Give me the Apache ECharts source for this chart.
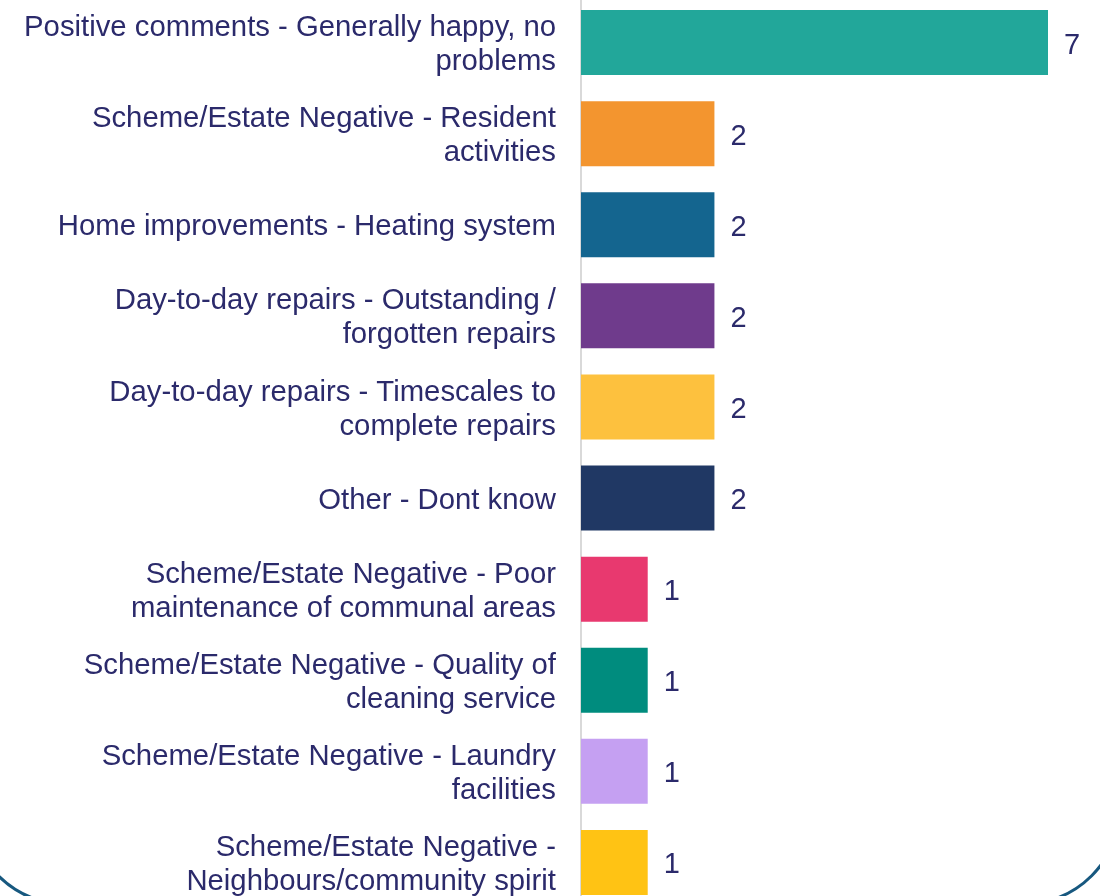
<!DOCTYPE html>
<html>
<head>
<meta charset="utf-8">
<script src="https://cdn.jsdelivr.net/npm/echarts@6/dist/echarts.min.js"></script>
<style>html,body{margin:0;padding:0;background:#fff;overflow:hidden;width:1100px;height:896px;}#c{position:absolute;left:0;top:-3px;width:1100px;height:911px;}</style>
</head>
<body>
<div id="c"></div>
<script>
const categories = [
  "Positive comments - Generally happy, no\nproblems",
  "Scheme/Estate Negative - Resident\nactivities",
  "Home improvements - Heating system",
  "Day-to-day repairs - Outstanding /\nforgotten repairs",
  "Day-to-day repairs - Timescales to\ncomplete repairs",
  "Other - Dont know",
  "Scheme/Estate Negative - Poor\nmaintenance of communal areas",
  "Scheme/Estate Negative - Quality of\ncleaning service",
  "Scheme/Estate Negative - Laundry\nfacilities",
  "Scheme/Estate Negative -\nNeighbours/community spirit"
];
const values = [7, 2, 2, 2, 2, 2, 1, 1, 1, 1];
const colors = ["#22a79a", "#f3952f", "#14658f", "#6f3b8c", "#fdc13e", "#203864", "#e8396f", "#008c7e", "#c5a0f2", "#ffc314"];

const FONT = 'Liberation Sans, Arial, sans-serif';
const chart = echarts.init(document.getElementById('c'), null, {renderer: 'canvas'});
chart.setOption({
  animation: false,
  backgroundColor: '#fff',
  grid: {left: 581, right: 52, top: 0, bottom: 0, containLabel: false},
  xAxis: {type: 'value', min: 0, max: 7, show: false},
  yAxis: {
    type: 'category', data: categories, inverse: true,
    axisLine: {show: true, lineStyle: {color: '#d9d9d9', width: 2}},
    axisTick: {show: false},
    axisLabel: {
      color: '#2b2a6b', fontSize: 29.3, fontFamily: FONT,
      margin: 25, align: 'right',
      formatter: v => v.split('\n').map(l => '{s| }{t|' + l + '}').join('\n'),
      rich: {
        s: {lineHeight: 34, width: 0, fontSize: 29.3, fontFamily: FONT},
        t: {verticalAlign: 'bottom', fontSize: 29.3, fontFamily: FONT, color: '#2b2a6b'}
      }
    }
  },
  series: [{
    type: 'bar',
    data: values.map((v, i) => ({value: v, itemStyle: {color: colors[i]}})),
    barWidth: 65,
    label: {
      show: true, position: 'right', distance: 16, offset: [0, 3],
      color: '#2b2a6b', fontSize: 29, fontFamily: FONT
    }
  }],
  graphic: [{
    type: 'rect', silent: true, z: 100,
    shape: {x: -31, y: -300, width: 1152, height: 1208, r: 100},
    style: {fill: 'none', stroke: '#17587f', lineWidth: 3}
  }]
});
</script>
</body>
</html>
